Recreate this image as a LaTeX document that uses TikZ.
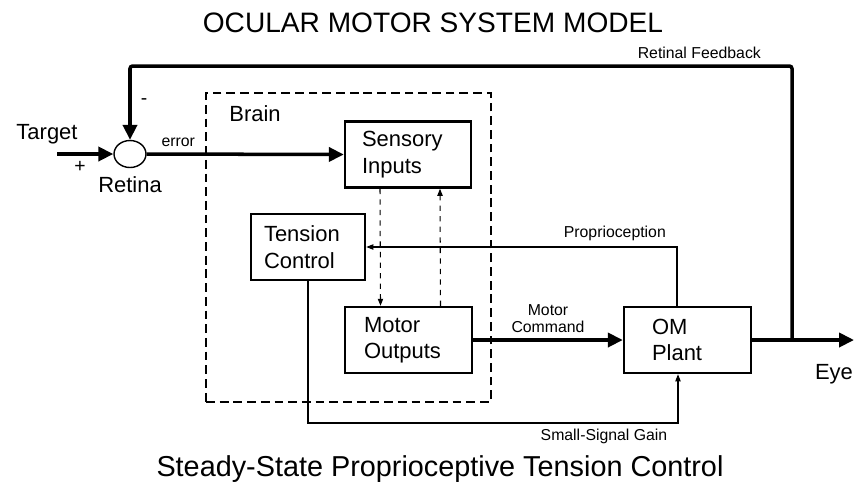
\documentclass[tikz,border=0pt]{standalone}
\usepackage{fontspec}
\setmainfont{Liberation Sans}
\usetikzlibrary{arrows.meta,shapes.geometric}

\begin{document}
\begin{tikzpicture}[x=0.02cm, y=-0.02cm, font=\fontsize{12.5}{15}\selectfont,
    bloco/.style={draw, line width=1.4pt, minimum height=1.32cm, align=left},
    sinal/.style={line width=2pt, >={Triangle[length=8.5pt, width=8pt]}},
    fino/.style={line width=0.6pt, >={Triangle[length=4pt, width=3pt]}},
    rotulo/.style={font=\fontsize{9}{9.6}\selectfont}]
        \useasboundingbox (0,0) rectangle (855,485);

        % Titulos
        \node[font=\fontsize{16}{19}\selectfont] (titulo) at (433,22.5) {OCULAR MOTOR SYSTEM MODEL};
        \node[font=\fontsize{16.4}{19}\selectfont] (subtitulo) at (440,469) {Steady-State Proprioceptive Tension Control};

        % Cerebro
        \node[draw, line width=1.6pt, dash pattern=on 5pt off 2.8pt, minimum width=5.7cm, minimum height=6.18cm] (brain) at (348.5,247.5) {};
        \node (brainlbl) at (255,114) {Brain};

        % Blocos
        \node[bloco, text width=1.84cm, inner xsep=0.34cm] (sens) at (408,154.5) {Sensory\\Inputs};
        \node[bloco, text width=1.76cm, inner xsep=0.26cm] (tens) at (308,247) {Tension\\Control};
        \node[bloco, text width=1.78cm, inner xsep=0.38cm] (motor) at (408.5,340) {Motor\\Outputs};
        \node[bloco, text width=1.42cm, inner xsep=0.56cm] (plant) at (687.5,340) {OM\\Plant};

        % Retina (somador)
        \node[draw, ellipse, line width=0.8pt, minimum width=0.64cm, minimum height=0.54cm, inner sep=0pt, label={[label distance=1pt]below:Retina}] (sum) at (130,154) {};

        % Pontos livres
        \coordinate (alvo) at (57,154);
        \coordinate (tap) at (792,340);
        \coordinate (olho) at (854,340);
        \coordinate (fb) at (130,66);
        \coordinate (gain) at (308,423);

        % Rotulos soltos
        \node (alvolbl) at (47,134.5) {Target};
        \node[font=\fontsize{11}{12}\selectfont] (maislbl) at (80,167) {+};
        \node[font=\fontsize{11}{12}\selectfont] (menoslbl) at (144,102) {-};
        \node (olholbl) at (834,374) {Eye};

        % Sinais principais
        \draw[sinal, ->] (alvo) -- (sum.west);
        \draw[sinal, ->] (sum.east) -- node[rotulo, above, pos=0.16] (errlbl) {error} (sens.west);
        \draw[sinal, ->] (motor.east) -- node[rotulo, above, align=center] (cmdlbl) {Motor\\Command} (plant.west);
        \draw[sinal, ->] (plant.east) -- (olho);
        \draw[sinal, ->, rounded corners=1.5pt] (tap) |- node[rotulo, above, pos=0.57] (fblbl) {Retinal Feedback} (fb) -- (sum.north);

        % Propriocepcao e ganho
        \draw[fino, ->] ([xshift=-0.21cm]plant.north) |- node[rotulo, above, pos=0.6] (proplbl) {Proprioception} (tens.east);
        \draw[fino, ->] (tens.south) -- (gain) -| node[rotulo, below, pos=0.4] (gainlbl) {Small-Signal Gain} ([xshift=-0.19cm]plant.south);

        % Ligacoes internas
        \draw[fino, dashed, ->] ([xshift=-0.56cm]sens.south) -- ([xshift=-0.56cm]motor.north);
        \draw[fino, dashed, ->] ([xshift=0.64cm]motor.north) -- ([xshift=0.64cm]sens.south);
      \end{tikzpicture}
\end{document}
